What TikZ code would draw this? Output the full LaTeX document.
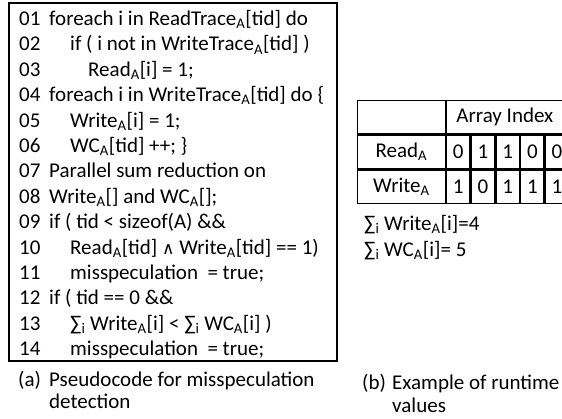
\documentclass[tikz,border=0pt]{standalone}
\usepackage{fontspec}
\setmainfont{Carlito}
\newfontfamily\symfont{DejaVu Sans}
\newcommand\sA{\textsubscript{A}}
\newcommand\si{\textsubscript{i}}
\begin{document}
\begin{tikzpicture}[x=1pt,y=-1pt,
  txt/.style={anchor=base west, inner sep=0pt, font=\fontsize{21}{24}\selectfont},
  cell/.style={draw, line width=1.4pt, minimum width=23.3pt, minimum height=33.5pt, anchor=north west, inner sep=0pt, font=\fontsize{21}{24}\selectfont}]
\useasboundingbox (0,0) rectangle (562,418);
% pseudocode frame
\draw[line width=2pt] (9,3) rectangle (337,361);
% line numbers and code, one baseline per row
\def\ya{25.5} \def\dy{25.4}
\def\xn{19} \def\xa{49} \def\xb{70} \def\xc{88}
\foreach \k/\n in {0/01,1/02,2/03,3/04,4/05,5/06,6/07,7/08,8/09,9/10,10/11,11/12,12/13,13/14}
  \node[txt] (n\n) at (\xn,\ya+\k*\dy) {\n};
\node[txt] (c1)  at (\xa,\ya+0*\dy)  {foreach i in ReadTrace\sA[tid] do};
\node[txt] (c2)  at (\xb,\ya+1*\dy)  {if ( i not in WriteTrace\sA[tid] )};
\node[txt] (c3)  at (\xc,\ya+2*\dy)  {Read\sA[i] = 1;};
\node[txt] (c4)  at (\xa,\ya+3*\dy)  {foreach i in WriteTrace\sA[tid] do \{};
\node[txt] (c5)  at (\xb,\ya+4*\dy)  {Write\sA[i] = 1;};
\node[txt] (c6)  at (\xb,\ya+5*\dy)  {WC\sA[tid] ++; \}};
\node[txt] (c7)  at (\xa,\ya+6*\dy)  {Parallel sum reduction on};
\node[txt] (c8)  at (\xa,\ya+7*\dy)  {Write\sA[] and WC\sA[];};
\node[txt] (c9)  at (\xa,\ya+8*\dy)  {if ( tid < sizeof(A) \&\&};
\node[txt] (c10) at (\xb,\ya+9*\dy)  {Read\sA[tid] {\symfont\fontsize{17}{20}\selectfont∧} Write\sA[tid] == 1)};
\node[txt] (c11) at (\xb,\ya+10*\dy) {misspeculation\ \ = true;};
\node[txt] (c12) at (\xa,\ya+11*\dy) {if ( tid == 0 \&\&};
\node[txt] (c13) at (\xb,\ya+12*\dy) {∑\si{} Write\sA[i] < ∑\si{} WC\sA[i] )};
\node[txt] (c14) at (\xb,\ya+13*\dy) {misspeculation\ \ = true;};
% captions
\node[txt] (capa)  at (18,386) {(a)};
\node[txt] (capa1) at (49,386) {Pseudocode for misspeculation};
\node[txt] (capa2) at (49,408) {detection};
\node[txt] (capb)  at (362,389) {(b)};
\node[txt] (capb1) at (392,389) {Example of runtime};
\node[txt] (capb2) at (392,412) {values};
% runtime value table
\node[cell, minimum width=87.5pt] (h0) at (357,99.5) {};
\node[cell, minimum width=116.5pt] (h1) at (h0.north east) {Array Index};
\node[cell, minimum width=87.5pt] (r0) at (h0.south west) {Read\sA};
\node[cell, minimum width=87.5pt] (w0) at (r0.south west) {Write\sA};
\node[cell] (r1) at (r0.north east) {0};
\node[cell] (r2) at (r1.north east) {1};
\node[cell] (r3) at (r2.north east) {1};
\node[cell] (r4) at (r3.north east) {0};
\node[cell] (r5) at (r4.north east) {0};
\node[cell] (w1) at (w0.north east) {1};
\node[cell] (w2) at (w1.north east) {0};
\node[cell] (w3) at (w2.north east) {1};
\node[cell] (w4) at (w3.north east) {1};
\node[cell] (w5) at (w4.north east) {1};
% sums
\node[txt] (s1) at (364,230) {∑\si{} Write\sA[i]=4};
\node[txt] (s2) at (364,256) {∑\si{} WC\sA[i]= 5};
\end{tikzpicture}
\end{document}
